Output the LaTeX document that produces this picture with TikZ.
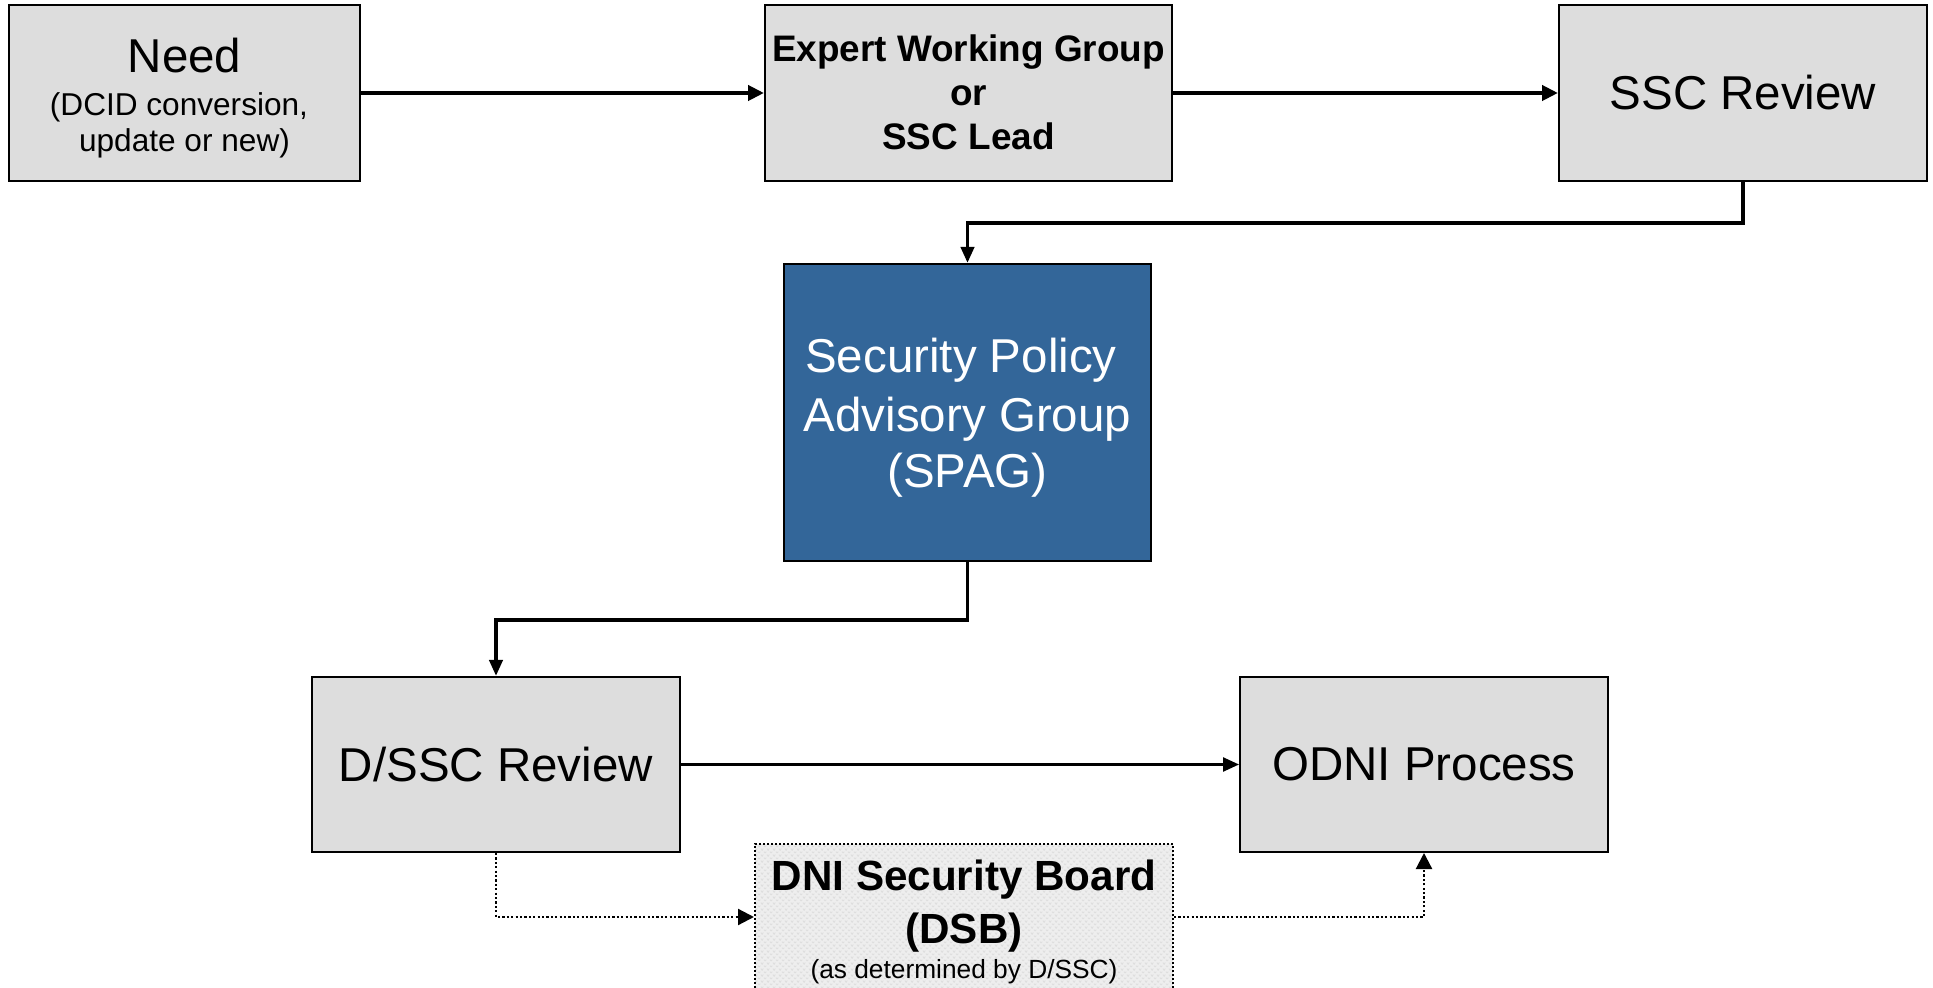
\documentclass[tikz,border=0pt]{standalone}
\usepackage{fontspec}
\setmainfont{Liberation Sans}
\usetikzlibrary{arrows.meta,patterns}
\definecolor{boxgray}{HTML}{DDDDDD}
\definecolor{spagblue}{HTML}{336699}
\definecolor{dsbfill}{HTML}{EEEEEE}
\definecolor{dsbhatch}{HTML}{DEDEDE}
\begin{document}
\begin{tikzpicture}[x=0.5pt,y=-0.5pt,
  graybox/.style={draw=black,line width=1pt,fill=boxgray,inner sep=0pt,minimum height=88pt,minimum width=184pt},
  bluebox/.style={draw=black,line width=1pt,fill=spagblue,inner sep=0pt},
  dsbbox/.style={draw=black,line width=1pt,dash pattern=on 1pt off 1pt,preaction={fill=dsbfill},pattern=crosshatch,pattern color=dsbhatch,inner sep=0pt},
  bigtext/.style={font=\fontsize{23.75pt}{28pt}\selectfont},
  smalltext/.style={font=\fontsize{15.8pt}{18pt}\selectfont},
  ewgtext/.style={font=\bfseries\fontsize{18.45pt}{22pt}\selectfont},
  dsbtext/.style={font=\bfseries\fontsize{21.1pt}{24pt}\selectfont},
  dsbsmall/.style={font=\fontsize{13.15pt}{15pt}\selectfont},
  txt/.style={inner sep=0pt,anchor=base},
  thickarrow/.style={line width=2.2pt,-{Triangle[length=8pt,width=7.5pt]}},
  elbowarrow/.style={line width=1.9pt,-{Triangle[length=8pt,width=6.5pt]}},
  thinarrow/.style={line width=1.2pt,-{Triangle[length=8pt,width=7pt]}},
  dotarrow/.style={line width=1.1pt,dash pattern=on 1.1pt off 1.1pt,-{Triangle[length=8pt,width=8pt]}}
]
\clip (0,0) rectangle (1933,988);
\fill[white] (0,0) rectangle (1933,988);

% top row
\node[graybox,minimum width=175.5pt] (need) at (184.5,93) {};
\node[txt,bigtext] (needA) at (184.5,73) {Need};
\node[txt,smalltext] (needB) at (179,116) {(DCID conversion,};
\node[txt,smalltext] (needC) at (184.5,152) {update or new)};

\node[graybox,minimum width=203.5pt] (ewg) at (968.5,93) {};
\node[txt,ewgtext] (ewgA) at (968.5,62) {Expert Working Group};
\node[txt,ewgtext] (ewgB) at (968.5,106) {or};
\node[txt,ewgtext] (ewgC) at (968.5,150) {SSC Lead};

\node[graybox,bigtext] (ssc) at (1743,93) {SSC Review};

% SPAG
\node[bluebox,minimum width=183.5pt,minimum height=148.5pt] (spag) at (967.5,412.5) {};
\node[txt,bigtext,text=white] (spagA) at (961,373) {Security Policy};
\node[txt,bigtext,text=white] (spagB) at (967.5,432) {Advisory Group};
\node[txt,bigtext,text=white] (spagC) at (967.5,488) {(SPAG)};

% bottom row
\node[graybox,bigtext,minimum height=87.5pt] (dssc) at (496,764.5) {D/SSC Review};
\node[graybox,bigtext,minimum height=87.5pt] (odni) at (1424,764.5) {ODNI Process};

\node[dsbbox,minimum width=209pt,minimum height=73pt] (dsb) at (964,917) {};
\node[txt,dsbtext] (dsbA) at (964,890) {DNI Security Board};
\node[txt,dsbtext] (dsbB) at (964,943) {(DSB)};
\node[txt,dsbsmall] (dsbC) at (964,978) {(as determined by D/SSC)};

% connectors
\draw[thickarrow] (need.east) -- (ewg.west);
\draw[thickarrow] (ewg.east) -- (ssc.west);
\draw[elbowarrow] (ssc.south) -- ++(0,41) -| (spag.north);
\draw[elbowarrow] (spag.south) -- ++(0,58) -| (dssc.north);
\draw[thinarrow] (dssc.east) -- (odni.west);
\draw[dotarrow] (dssc.south) |- (dsb.west);
\draw[dotarrow] (dsb.east) -| (odni.south);
\end{tikzpicture}
\end{document}
